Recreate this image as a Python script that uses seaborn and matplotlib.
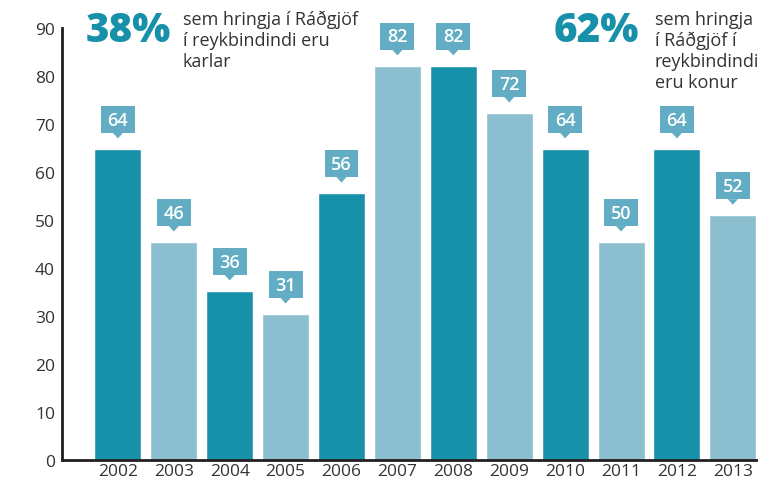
import matplotlib
matplotlib.use('Agg')
import matplotlib.pyplot as plt
from matplotlib.patches import Rectangle, Polygon
import seaborn as sns
import pandas as pd

# gögn lesin af myndinni
years = ['2002', '2003', '2004', '2005', '2006', '2007', '2008', '2009', '2010', '2011', '2012', '2013']
bar_values = [64.8, 45.4, 35.2, 30.4, 55.6, 82.1, 82.1, 72.3, 64.8, 45.4, 64.8, 51.0]
box_labels = ['64', '46', '36', '31', '56', '82', '82', '72', '64', '50', '64', '52']

dark = '#1791a9'
light = '#8bbfcf'
box_col = '#62adc3'
txt_col = '#333333'
colors = [dark if i % 2 == 0 else light for i in range(len(years))]

df = pd.DataFrame({'year': years, 'value': bar_values})

sns.set_style('white')
plt.rcParams['font.family'] = ['Open Sans', 'DejaVu Sans']

fig = plt.figure(figsize=(7.58, 4.85), dpi=100)
ax = fig.add_axes([62 / 758, 24 / 485, 696 / 758, 432 / 485])

sns.barplot(data=df, x='year', y='value', hue='year', palette=colors,
            order=years, width=0.84, saturation=1, legend=False, ax=ax)

ax.set_xlim(-1.0, 11.45)
ax.set_ylim(0, 90)
ax.set_yticks(range(0, 91, 10))
ax.set_xlabel('')
ax.set_ylabel('')

for s in ['top', 'right']:
    ax.spines[s].set_visible(False)
for s in ['left', 'bottom']:
    ax.spines[s].set_linewidth(2)
    ax.spines[s].set_color('#231f20')
ax.tick_params(axis='y', direction='in', length=10, width=2, color='#231f20',
               labelsize=12.5, labelcolor=txt_col, pad=5)
ax.tick_params(axis='x', length=0, labelsize=12.5, labelcolor=txt_col, pad=2)

# merkimiðar fyrir ofan súlurnar (stærð í punktum -> gagnaeiningar)
bw = 0.607   # breidd kassa
bh = 5.6     # hæð kassa
gap = 3.33   # bil frá súlu að kassa
for i, (v, lab) in enumerate(zip(bar_values, box_labels)):
    y0 = v + gap
    ax.add_patch(Rectangle((i - bw / 2, y0), bw, bh, fc=box_col, ec='none', clip_on=False))
    ax.add_patch(Polygon([(i - 0.09, y0 + 0.01), (i + 0.09, y0 + 0.01), (i, v + 2.2)],
                         closed=True, fc=box_col, ec='none', clip_on=False))
    ax.text(i, y0 + bh / 2, lab, ha='center', va='center', color='white',
            fontsize=13, fontweight='semibold')

fig.text(86 / 758, 1 - 31 / 485, '38%', color=dark, fontsize=29, fontweight='heavy',
         ha='left', va='center')
fig.text(183 / 758, 1 - 11 / 485, 'sem hringja í Ráðgjöf\ní reykbindindi eru\nkarlar',
         color=txt_col, fontsize=13, ha='left', va='top', linespacing=1.2)

fig.text(554 / 758, 1 - 31 / 485, '62%', color=dark, fontsize=29, fontweight='heavy',
         ha='left', va='center')
fig.text(655 / 758, 1 - 11 / 485, 'sem hringja\ní Ráðgjöf í\nreykbindindi\neru konur',
         color=txt_col, fontsize=13, ha='left', va='top', linespacing=1.2)

fig.savefig('out.png', dpi=100)
